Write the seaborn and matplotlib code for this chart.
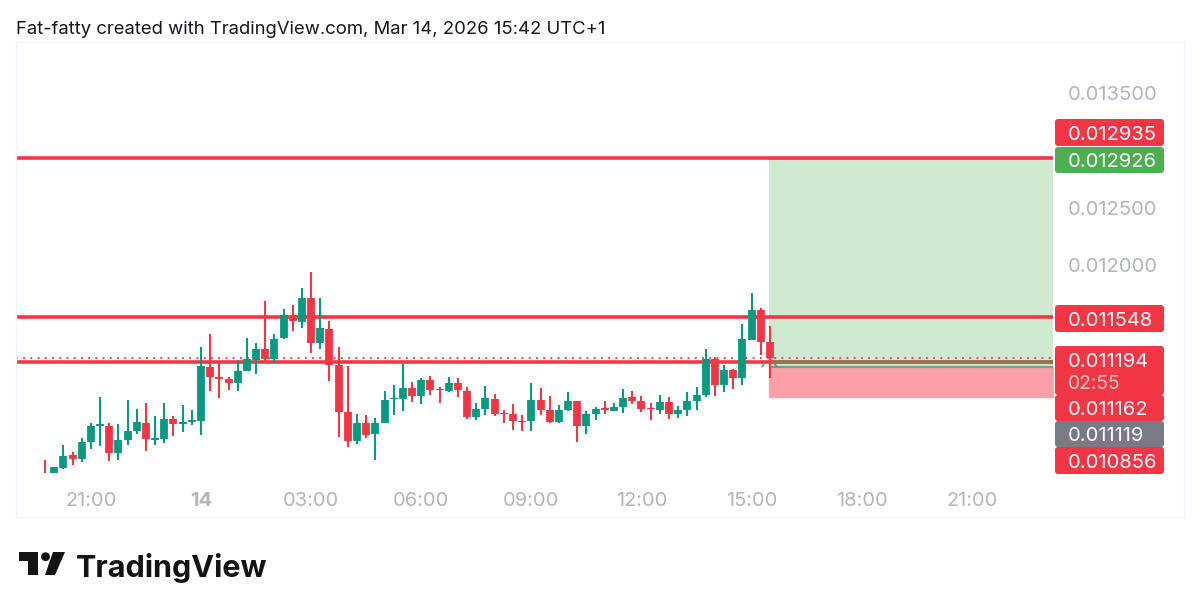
import matplotlib
matplotlib.use("Agg")
import matplotlib.pyplot as plt
import matplotlib.transforms as mtransforms
from matplotlib.patches import FancyBboxPatch, Rectangle, Polygon, Circle
from matplotlib.ticker import FuncFormatter
import pandas as pd
import seaborn as sns

# prices in millionths, one candle each 15 min from Mar 13 19:45
opens = [10198,10192,10238,10349,10317,10462,10607,10607,10372,10485,10560,10633,10485,10488,10662,10621,
         10641,10647,11114,11030,11010,10981,11085,11178,11271,11184,11366,11570,11512,11720,11329,11448,
         11132,10726,10470,10630,10531,10630,10839,10842,10937,10868,11004,10929,10908,10978,10911,10685,
         10752,10842,10717,10705,10650,10644,10830,10740,10636,10740,10818,10607,10705,10757,10737,10772,
         10853,10824,10763,10743,10810,10711,10746,10824,10874,11184,10963,11094,11024,11355,11610,11335]
highs = [10308,10250,10436,10375,10496,10627,10859,10627,10621,10830,10749,10807,10691,10807,10691,10789,
         10743,11288,11404,11149,11027,11178,11366,11323,11688,11407,11625,11654,11804,11944,11720,11514,
         11288,11126,10708,10702,10673,10905,10958,11143,10987,11024,11039,10946,11027,11024,10946,10807,
         10952,10879,10743,10795,10702,10981,10937,10865,10786,10900,10824,10737,10772,10818,10807,10929,
         10911,10862,10801,10876,10859,10778,10903,10940,11271,11201,11132,11100,11491,11758,11630,11477]
lows = [10192,10192,10233,10262,10291,10407,10430,10296,10308,10438,10537,10383,10438,10459,10520,10552,
        10610,10528,10911,10845,10917,10908,11082,11056,11172,11149,11364,11427,11454,11242,11277,10998,
        10511,10424,10447,10497,10308,10627,10702,10737,10813,10795,10874,10801,10903,10853,10662,10656,
        10700,10694,10627,10569,10563,10563,10700,10633,10627,10737,10468,10537,10656,10705,10731,10720,
        10795,10723,10653,10708,10665,10676,10694,10746,10853,10865,10897,10926,10963,11352,11224,11018]
closes = [10192,10244,10343,10320,10462,10604,10618,10372,10482,10560,10636,10491,10497,10662,10621,10636,
          10653,11126,11030,11010,10981,11085,11184,11271,11184,11364,11572,11514,11720,11329,11454,11137,
          10726,10476,10633,10528,10627,10833,10847,10937,10865,11007,10917,10917,10978,10917,10685,10752,
          10847,10705,10705,10644,10639,10833,10743,10639,10740,10818,10607,10705,10749,10746,10772,10850,
          10821,10755,10752,10810,10711,10746,10821,10874,11184,10963,11091,11024,11358,11610,11332,11194]

level_prices = [0.012935, 0.011548, 0.011162]
last_price = 0.011194
target_price = 0.012926
entry_price = 0.011119
stop_price = 0.010856

y_tick_values = [0.0135, 0.0125, 0.012]
x_tick_positions = [5, 17, 29, 41, 53, 65, 77, 89, 101]
x_tick_labels = ["21:00", "14", "03:00", "06:00", "09:00", "12:00", "15:00", "18:00", "21:00"]

price_tags = ["0.012935", "0.012926", "0.011548", "0.011194", "0.011162", "0.011119", "0.010856"]
countdown = "02:55"
title = "Fat-fatty created with TradingView.com, Mar 14, 2026 15:42 UTC+1"

UP = "#089981"
DOWN = "#F23645"
LABEL_GREY = "#B2B5BE"
W, H = 1200, 611

sns.set_theme(style="white")
plt.rcParams["font.family"] = ["Inter", "DejaVu Sans"]

fig = plt.figure(figsize=(W / 100, H / 100), dpi=100, facecolor="white")
px = mtransforms.Affine2D().scale(1, -1).translate(0, H)  # top-left pixel coords

fig.add_artist(Rectangle((16, 42), 1168, 475, transform=px, fc="none", ec="#F0F3FA", lw=1))
ax = fig.add_axes([16 / W, 1 - 477 / H, 1038 / W, 435 / H], facecolor="none")

# long form candles, two rows per candle for each of wick and body
rows_wick, rows_body = [], []
for i, (o, h, l, c) in enumerate(zip(opens, highs, lows, closes)):
    side = "up" if c >= o else "down"
    rows_wick += [(i, h / 1e6, side), (i, l / 1e6, side)]
    rows_body += [(i, o / 1e6, side), (i, c / 1e6, side)]
wicks = pd.DataFrame(rows_wick, columns=["i", "price", "side"])
bodies = pd.DataFrame(rows_body, columns=["i", "price", "side"])
pal = {"up": UP, "down": DOWN}

XMIN, XMAX = -3.16, 109.95
BOX_L, BOX_R = 78.9, 109.85

# position boxes
ax.add_patch(Rectangle((BOX_L, entry_price), BOX_R - BOX_L, target_price - entry_price, fc="#CFE9D1", ec="none", zorder=1))
ax.add_patch(Rectangle((BOX_L, stop_price), BOX_R - BOX_L, entry_price - stop_price, fc="#FC9FA8", ec="#F9A3AB", lw=1, zorder=1))

ax.hlines(level_prices, XMIN, BOX_R, color=DOWN, lw=2.6, zorder=2)
ax.hlines(level_prices[2], BOX_L, BOX_R, color="#9E6F50", lw=2.8, zorder=2.1)
ax.hlines(entry_price, BOX_L, BOX_R, color="#7E9C84", lw=1.6, zorder=2.1)
ax.hlines(last_price, XMIN, BOX_R, color=DOWN, lw=1.3, linestyles=(0, (1, 3)), zorder=2)

sns.lineplot(data=wicks, x="i", y="price", units="i", hue="side", palette=pal, estimator=None,
             lw=1.5, legend=False, ax=ax, zorder=3, solid_capstyle="butt")
sns.lineplot(data=bodies, x="i", y="price", units="i", hue="side", palette=pal, estimator=None,
             lw=5.6, legend=False, ax=ax, zorder=4, solid_capstyle="butt")

# small entry marker either side of the last candle
ax.plot([78.13, 78.45], [entry_price, entry_price + 0.000035], color="#787B86", lw=1, zorder=5)
ax.plot([79.35, 79.8], [entry_price + 0.000035, entry_price], color="#787B86", lw=1, zorder=5)

ax.set_xlim(XMIN, XMAX)
ax.set_ylim(0.010161, 0.013943)
ax.set_xlabel("")
ax.set_ylabel("")
for s in ax.spines.values():
    s.set_visible(False)
ax.grid(False)

ax.yaxis.tick_right()
ax.set_yticks(y_tick_values)
ax.yaxis.set_major_formatter(FuncFormatter(lambda v, _: f"{v:.6f}"))
ax.tick_params(axis="y", length=0, pad=10, labelsize=14.5, labelcolor=LABEL_GREY)
ax.set_xticks(x_tick_positions, x_tick_labels)
ax.tick_params(axis="x", length=0, pad=11, labelsize=14.4, labelcolor=LABEL_GREY)
ax.get_xticklabels()[1].set_fontweight("bold")

# price tags on the scale, top and bottom in pixels
tag_boxes = [(119, 146), (147, 173), (305, 332), (346, 395), (395, 421), (421, 447), (447, 474)]
tag_colors = [DOWN, "#4CAF50", DOWN, DOWN, DOWN, "#787B86", DOWN]
for label, (top, bottom), col in zip(price_tags, tag_boxes, tag_colors):
    fig.add_artist(FancyBboxPatch((1057, top + 2), 105, bottom - top - 4, boxstyle="round,pad=2,rounding_size=3",
                                  transform=px, fc=col, ec="none"))
    tag_y = (top + bottom) / 2 if bottom - top < 40 else top + 14
    fig.text(1068, tag_y, label, transform=px, color="white", fontsize=14.5, va="center_baseline", ha="left")
fig.text(1068, 382, countdown, transform=px, color="#FBC8CD", fontsize=13.8, va="center_baseline", ha="left")

fig.text(16, 28, title, transform=px, color="#131722", fontsize=13.3, va="center_baseline", ha="left")

# logo
logo = "#131313"
fig.add_artist(Polygon([(19, 552), (37.5, 552), (37.5, 575), (28, 575), (28, 561), (19, 561)], transform=px, fc=logo, ec="none"))
fig.add_artist(Circle((45.5, 556.7), 4.4, transform=px, fc=logo, ec="none"))
fig.add_artist(Polygon([(53, 552), (65, 552), (55, 575), (45, 575)], transform=px, fc=logo, ec="none"))
fig.text(76, 565, "TradingView", transform=px, color=logo, fontsize=22, fontweight="bold", va="center_baseline", ha="left")

fig.savefig("out.png", dpi=100, facecolor="white")
